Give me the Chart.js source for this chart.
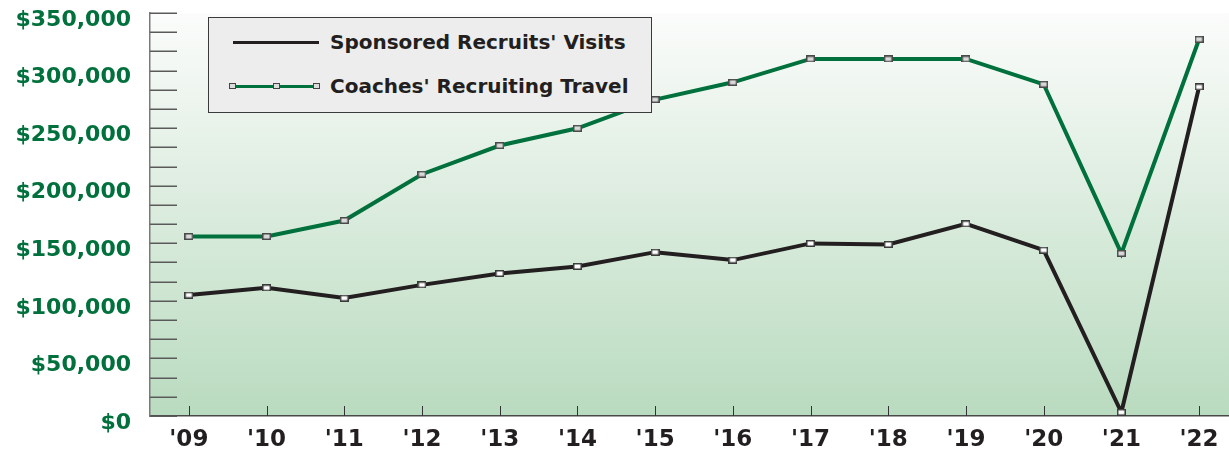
<!DOCTYPE html>
<html>
<head>
<meta charset="utf-8">
<script src="https://cdn.jsdelivr.net/npm/chart.js@4/dist/chart.umd.min.js"></script>
<style>
    body { margin: 0; overflow: hidden; background: #fff; }
    #grafico { position: relative; width: 1229px; height: 454px; }
    #leyenda {
        position: absolute; left: 208px; top: 17px; width: 442px; height: 94px;
        background: #ededed; border: 1px solid #3a3a3a;
        font-family: "DejaVu Sans", sans-serif; font-weight: bold; font-size: 20px; color: #231f20;
    }
    .linea { position: absolute; left: 24px; width: 86px; height: 3px; }
    .marca { position: absolute; width: 5px; height: 4px; background: #dcdcdc; border: 1px solid #444; }
    .texto { position: absolute; left: 121px; height: 24px; line-height: 24px; white-space: nowrap; }
</style>
</head>
<body>
<div id="grafico">
    <canvas id="graficoReclutamiento" width="1229" height="454"></canvas>
    <div id="leyenda">
        <div class="linea" style="top:23px;background:#231f20;"></div>
        <div class="texto" style="top:12px;">Sponsored Recruits' Visits</div>
        <div class="linea" style="top:67px;background:#00703c;"></div>
        <div class="marca" style="left:20px;top:65px;"></div>
        <div class="marca" style="left:64px;top:65px;"></div>
        <div class="marca" style="left:104px;top:65px;"></div>
        <div class="texto" style="top:56px;">Coaches' Recruiting Travel</div>
    </div>
</div>
<script>
//Datos.
const anios = ["'09", "'10", "'11", "'12", "'13", "'14", "'15", "'16", "'17", "'18", "'19", "'20", "'21", "'22"];
const visitasReclutas = [105000, 111300, 102400, 113900, 123800, 129900, 142300, 135400, 149900, 149000, 166900, 144100, 3200, 285800];
const viajesEntrenadores = [155900, 155900, 169800, 210000, 234900, 249900, 274800, 289800, 310100, 310100, 310100, 288100, 141200, 327200];
const etiquetasY = [0, 50000, 100000, 150000, 200000, 250000, 300000, 350000];

//Marcador cuadrado pequeño para los puntos.
function crearMarcador(relleno, borde) {
    const c = document.createElement('canvas');
    c.width = 9;
    c.height = 7;
    const g = c.getContext('2d');
    g.fillStyle = relleno;
    g.fillRect(0, 0, 9, 7);
    g.strokeStyle = borde;
    g.lineWidth = 1.5;
    g.strokeRect(0.75, 0.75, 7.5, 5.5);
    return c;
}

//Fondo degradado y marcas internas de los ejes.
const fondoYMarcas = {
    id: 'fondoYMarcas',
    beforeDraw(chart) {
        const { ctx, chartArea } = chart;
        const grad = ctx.createLinearGradient(0, chartArea.top, 0, chartArea.bottom);
        grad.addColorStop(0, '#fbfcfb');
        grad.addColorStop(1, '#b9dbbf');
        ctx.save();
        ctx.fillStyle = grad;
        ctx.fillRect(chartArea.left, chartArea.top, chartArea.right - chartArea.left, chartArea.bottom - chartArea.top);
        ctx.restore();
    },
    beforeDatasetsDraw(chart) {
        const { ctx, chartArea, scales } = chart;
        ctx.save();
        ctx.strokeStyle = '#5a5a5a';
        ctx.lineWidth = 1.5;
        scales.y.ticks.forEach(t => {
            const py = Math.round(scales.y.getPixelForValue(t.value)) + 0.25;
            ctx.beginPath();
            ctx.moveTo(chartArea.left, py);
            ctx.lineTo(chartArea.left + 27, py);
            ctx.stroke();
        });
        ctx.strokeStyle = '#333';
        ctx.lineWidth = 1;
        anios.forEach((a, i) => {
            const px = Math.round(scales.x.getPixelForValue(i)) + 0.5;
            ctx.beginPath();
            ctx.moveTo(px, chartArea.bottom);
            ctx.lineTo(px, chartArea.bottom - 10);
            ctx.stroke();
        });
        ctx.restore();
    }
};

const ctx = document.querySelector('#graficoReclutamiento').getContext('2d');
const myChart = new Chart(ctx, {
    type: 'line',
    data: {
        datasets: [{
            label: "Coaches' Recruiting Travel",
            data: viajesEntrenadores.map((v, i) => ({ x: i, y: v })),
            borderColor: '#00703c',
            borderWidth: 4,
            pointStyle: crearMarcador('#d9d9d9', '#4a4a4a'),
            pointRadius: 4
        }, {
            label: "Sponsored Recruits' Visits",
            data: visitasReclutas.map((v, i) => ({ x: i, y: v })),
            borderColor: '#231f20',
            borderWidth: 4,
            pointStyle: crearMarcador('#ffffff', '#3a3a3a'),
            pointRadius: 4
        }]
    },
    options: {
        responsive: false,
        animation: false,
        layout: { autoPadding: false, padding: { top: 13, right: 0, bottom: 0, left: 0 } },
        plugins: {
            legend: { display: false },
            tooltip: { enabled: false }
        },
        scales: {
            x: {
                type: 'linear',
                //El último año queda cerca del borde derecho, como en el original.
                min: -0.5,
                max: 13.385,
                grid: { display: false, drawTicks: false },
                border: { color: '#4a4a4a', width: 1.5 },
                ticks: {
                    stepSize: 1,
                    includeBounds: false,
                    color: '#231f20',
                    font: { family: 'DejaVu Sans', weight: 'bold', size: 23 },
                    padding: 10,
                    maxRotation: 0,
                    autoSkip: false,
                    callback: v => anios[v]
                },
                afterFit: s => { s.height = 38; s.paddingLeft = 0; s.paddingRight = 0; }
            },
            y: {
                min: 0,
                max: 350000,
                grid: { display: false, drawTicks: false },
                border: { color: '#7a7a7a', width: 1.5 },
                ticks: {
                    stepSize: 50000 / 3,
                    autoSkip: false,
                    color: '#00703c',
                    font: { family: 'DejaVu Sans', weight: 'bold', size: 22 },
                    padding: 19,
                    labelOffset: 7,
                    callback: v => {
                        const e = etiquetasY.find(m => Math.abs(m - v) < 1);
                        return e === undefined ? '' : '$' + e.toLocaleString('en-US');
                    }
                },
                afterFit: s => { s.width = 150; s.paddingTop = 0; s.paddingBottom = 0; }
            }
        }
    },
    plugins: [fondoYMarcas]
});
</script>
</body>
</html>
